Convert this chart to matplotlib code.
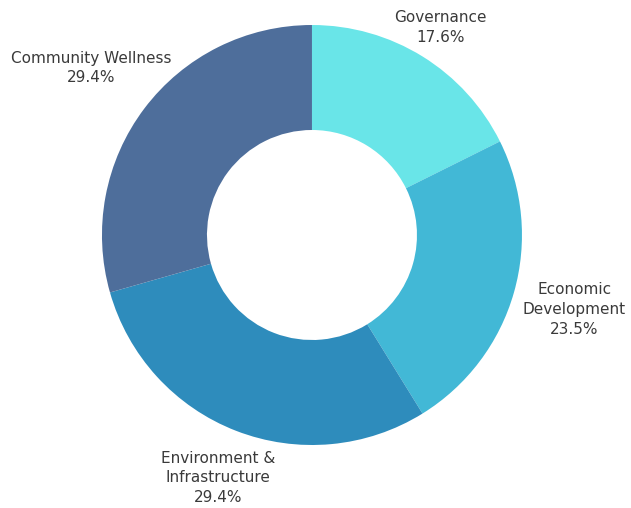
import numpy as np
import matplotlib
matplotlib.use("Agg")
import matplotlib.pyplot as plt

# donut chart of focus areas
labels = ["Governance", "Economic\nDevelopment", "Environment &\nInfrastructure", "Community Wellness"]
values = [3, 4, 5, 5]
colors = ["#69E5E8", "#42B8D6", "#2E8CBC", "#4E6E9B"]
label_dist = [1.16, 1.30, 1.24, 1.32]

fig = plt.figure(figsize=(6.31, 5.08), dpi=100)
ax = fig.add_axes([0.1616, 0.124, 0.6656, 0.8268])

wedges, _ = ax.pie(values, colors=colors, startangle=90, counterclock=False,
                   radius=1, wedgeprops=dict(width=0.5, edgecolor="none"))
ax.set_xlim(-1, 1)
ax.set_ylim(-1, 1)
ax.set_aspect("equal")
ax.axis("off")

total = sum(values)
for w, lab, v, d in zip(wedges, labels, values, label_dist):
    ang = np.deg2rad((w.theta1 + w.theta2) / 2)
    ax.text(d * np.cos(ang), d * np.sin(ang), f"{lab}\n{v / total * 100:.1f}%",
            ha="center", va="center", fontsize=11, color="#3a3a3a", linespacing=1.4)

fig.savefig("out.png", dpi=100)
